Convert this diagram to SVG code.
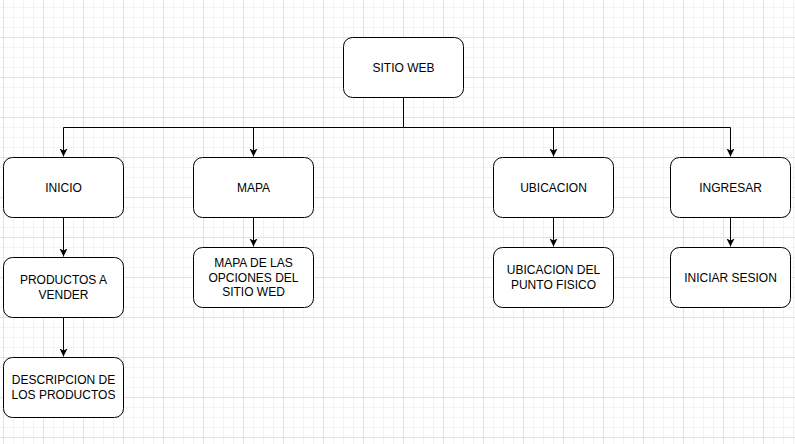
<svg xmlns="http://www.w3.org/2000/svg" width="795" height="444" viewBox="0 0 795 444">
<defs>
<pattern id="grid" patternUnits="userSpaceOnUse" x="3" y="-3" width="40" height="40">
<rect x="0" y="0" width="40" height="40" fill="#ffffff"/>
<rect x="10" y="0" width="1" height="40" fill="#f3f3f3"/>
<rect x="20" y="0" width="1" height="40" fill="#f3f3f3"/>
<rect x="30" y="0" width="1" height="40" fill="#f3f3f3"/>
<rect x="0" y="10" width="40" height="1" fill="#f3f3f3"/>
<rect x="0" y="20" width="40" height="1" fill="#f3f3f3"/>
<rect x="0" y="30" width="40" height="1" fill="#f3f3f3"/>
<rect x="0" y="0" width="1" height="40" fill="#e2e2e2"/>
<rect x="0" y="0" width="40" height="1" fill="#e2e2e2"/>
</pattern>
<marker id="arr" markerUnits="userSpaceOnUse" markerWidth="10" markerHeight="10" refX="8" refY="4" orient="auto">
<path d="M0,0 L8,4 L0,8 L2,4 Z" fill="#000"/>
</marker>
</defs>
<style>
.box{fill:#fff;stroke:#000;stroke-width:1}
.lbl{font-family:"Liberation Sans",Arial,sans-serif;font-size:12px;fill:#000;text-anchor:middle}
.c{fill:none;stroke:#000;stroke-width:1}
</style>
<rect x="0" y="0" width="795" height="444" fill="url(#grid)"/>
<g id="connectors">
<path class="c" d="M403.5,97.5 V127.5 H63.5 V156.5" marker-end="url(#arr)"/>
<path class="c" d="M253.5,127.5 V156.5" marker-end="url(#arr)"/>
<path class="c" d="M403.5,127.5 H730.5 V156.5" marker-end="url(#arr)"/>
<path class="c" d="M553.5,127.5 V156.5" marker-end="url(#arr)"/>
<path class="c" d="M63.5,217.5 V256.5" marker-end="url(#arr)"/>
<path class="c" d="M63.5,317.5 V356.5" marker-end="url(#arr)"/>
<path class="c" d="M253.5,217.5 V246.5" marker-end="url(#arr)"/>
<path class="c" d="M553.5,217.5 V246.5" marker-end="url(#arr)"/>
<path class="c" d="M730.5,217.5 V246.5" marker-end="url(#arr)"/>
</g>
<g id="sitio-web">
<rect class="box" x="343.5" y="37.5" width="120" height="60" rx="9"/>
<text class="lbl" x="403.5" y="71.5">SITIO WEB</text>
</g>
<g id="inicio">
<rect class="box" x="3.5" y="157.5" width="120" height="60" rx="9"/>
<text class="lbl" x="63.5" y="191.5">INICIO</text>
</g>
<g id="productos">
<rect class="box" x="3.5" y="257.5" width="120" height="60" rx="9"/>
<text class="lbl" x="63.5" y="284">PRODUCTOS A</text>
<text class="lbl" x="63.5" y="298.5">VENDER</text>
</g>
<g id="descripcion">
<rect class="box" x="3.5" y="357.5" width="120" height="60" rx="9"/>
<text class="lbl" x="63.5" y="384">DESCRIPCION DE</text>
<text class="lbl" x="63.5" y="398.5">LOS PRODUCTOS</text>
</g>
<g id="mapa">
<rect class="box" x="193.5" y="157.5" width="120" height="60" rx="9"/>
<text class="lbl" x="253.5" y="191.5">MAPA</text>
</g>
<g id="mapa-opciones">
<rect class="box" x="193.5" y="247.5" width="120" height="60" rx="9"/>
<text class="lbl" x="253.5" y="267">MAPA DE LAS</text>
<text class="lbl" x="253.5" y="281.5">OPCIONES DEL</text>
<text class="lbl" x="253.5" y="296">SITIO WED</text>
</g>
<g id="ubicacion">
<rect class="box" x="493.5" y="157.5" width="120" height="60" rx="9"/>
<text class="lbl" x="553.5" y="191.5">UBICACION</text>
</g>
<g id="ubicacion-punto">
<rect class="box" x="493.5" y="247.5" width="120" height="60" rx="9"/>
<text class="lbl" x="553.5" y="274">UBICACION DEL</text>
<text class="lbl" x="553.5" y="288.5">PUNTO FISICO</text>
</g>
<g id="ingresar">
<rect class="box" x="670.5" y="157.5" width="120" height="60" rx="9"/>
<text class="lbl" x="730.5" y="191.5">INGRESAR</text>
</g>
<g id="iniciar-sesion">
<rect class="box" x="670.5" y="247.5" width="120" height="60" rx="9"/>
<text class="lbl" x="730.5" y="281.5">INICIAR SESION</text>
</g>
</svg>
